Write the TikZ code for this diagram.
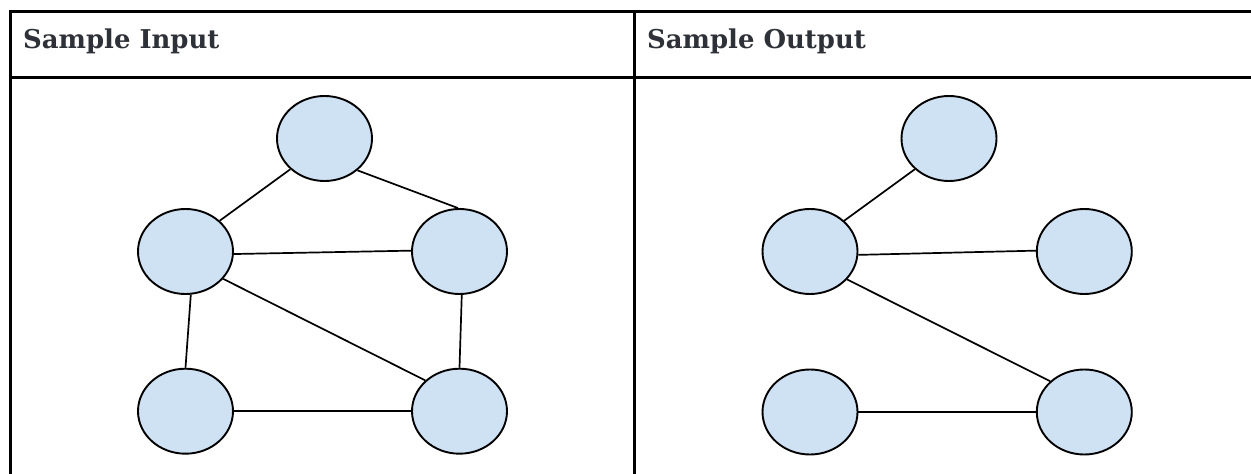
\documentclass[tikz,border=0pt]{standalone}
\usepackage{fontspec}
\setmainfont{DejaVu Serif}
\usetikzlibrary{shapes.geometric}
\definecolor{nodefill}{HTML}{CFE2F3}
\definecolor{headtext}{HTML}{2E3238}
\tikzset{
  vertex/.style={ellipse, draw=black, fill=nodefill, line width=1.9bp,
    minimum width=95bp, minimum height=85bp, inner sep=0pt},
  edge/.style={draw=black, line width=1.7bp},
  rule/.style={draw=black, line width=3bp},
  heading/.style={anchor=base west, inner sep=0pt, text=headtext,
    font=\fontsize{26}{31}\selectfont\bfseries}
}
\begin{document}
\begin{tikzpicture}[x=1bp, y=-1bp]
  \useasboundingbox (0,0) rectangle (1251,474);
  \fill[white] (0,0) rectangle (1251,474);

  % table rules
  \draw[rule, line join=miter] (10.5,474) -- (10.5,11.5) -- (1251,11.5);
  \draw[rule] (9,78) -- (1251,78);
  \draw[rule] (634.2,11.5) -- (634.2,474);

  % column headings
  \node[heading] (hin)  at (23,49)  {Sample Input};
  \node[heading] (hout) at (647,49) {Sample Output};

  % input graph
  \node[vertex] (a1) at (324.5,138.5) {};
  \node[vertex] (b1) at (185.5,251.5) {};
  \node[vertex] (c1) at (459.5,251.5) {};
  \node[vertex] (d1) at (185.5,411.2) {};
  \node[vertex] (e1) at (459.5,411.2) {};
  \draw[edge] (a1.-138) -- (b1.42);
  \draw[edge] (a1.-44)  -- (c1.92);
  \draw[edge] (b1.-3)   -- (c1.179);
  \draw[edge] (b1.-83)  -- (d1.90);
  \draw[edge] (b1.-36)  -- (e1.138);
  \draw[edge] (c1.-87)  -- (e1.90);
  \draw[edge] (d1.0)    -- (e1.180);

  % output graph
  \node[vertex] (a2) at (949,138.5) {};
  \node[vertex] (b2) at (810,251.5) {};
  \node[vertex] (c2) at (1084.3,251.5) {};
  \node[vertex] (d2) at (810,412) {};
  \node[vertex] (e2) at (1084.3,412) {};
  \draw[edge] (a2.-138) -- (b2.42);
  \draw[edge] (b2.-4)   -- (c2.179);
  \draw[edge] (b2.-37)  -- (e2.138);
  \draw[edge] (d2.0)    -- (e2.180);
\end{tikzpicture}
\end{document}
